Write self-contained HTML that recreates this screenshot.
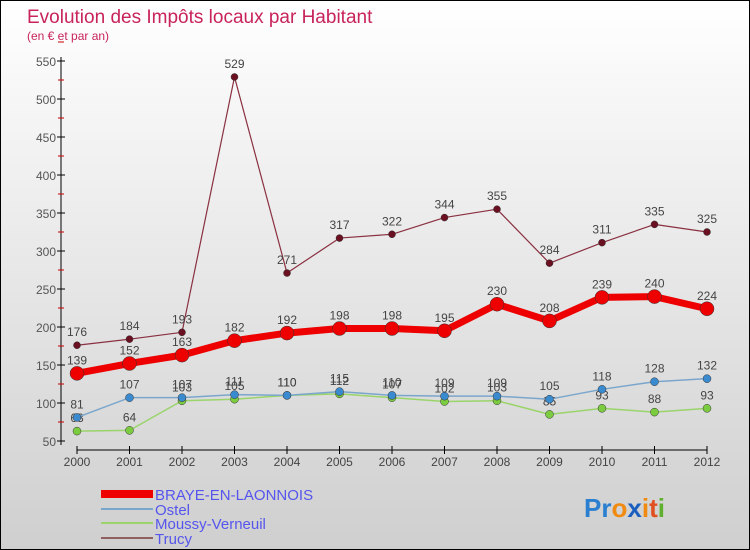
<!DOCTYPE html>
<html><head><meta charset="utf-8"><style>
body{margin:0}
#c{width:748px;height:548px;border:1px solid #000;position:relative;background:linear-gradient(#ffffff,#cfcfcf);font-family:"Liberation Sans",sans-serif;overflow:hidden}
</style></head><body>
<div id="c">
<svg id="s" width="748" height="548" xmlns="http://www.w3.org/2000/svg">
<text x="26" y="22" font-size="19" fill="#c8245a">Evolution des Impôts locaux par Habitant</text>
<text x="26" y="39" font-size="12" fill="#c8245a">(en € et par an)</text>
<g id="g"></g>
<g>
<rect x="100" y="489" width="52" height="8" fill="#e00"/>
<text x="154" y="499" font-size="15" fill="#5555ee">BRAYE-EN-LAONNOIS</text>
<line x1="100" y1="508" x2="152" y2="508" stroke="#7aa6cc" stroke-width="2"/>
<text x="154" y="514" font-size="15" fill="#5555ee">Ostel</text>
<line x1="100" y1="522" x2="152" y2="522" stroke="#9ad46a" stroke-width="2"/>
<text x="154" y="528" font-size="15" fill="#5555ee">Moussy-Verneuil</text>
<line x1="100" y1="537" x2="152" y2="537" stroke="#906060" stroke-width="2"/>
<text x="154" y="543" font-size="15" fill="#5555ee">Trucy</text>
</g>
<g font-size="26" font-weight="bold">
<text x="583" y="516"><tspan fill="#2a7fd0">Pr</tspan><tspan fill="#f08a10">o</tspan><tspan fill="#1a5fc0">x</tspan><tspan fill="#f08a10">i</tspan><tspan fill="#e05020">t</tspan><tspan fill="#60b030">i</tspan></text>
</g>
</svg>
</div>
<script>
const years=[2000,2001,2002,2003,2004,2005,2006,2007,2008,2009,2010,2011,2012];
const braye=[139,152,163,182,192,198,198,195,230,208,239,240,224];
const ostel=[81,107,107,111,110,115,110,109,109,105,118,128,132];
const moussy=[63,64,103,105,110,112,107,102,103,85,93,88,93];
const trucy=[176,184,193,529,271,317,322,344,355,284,311,335,325];
const yTicks=[50,100,150,200,250,300,350,400,450,500,550];
const NS="http://www.w3.org/2000/svg";
const g=document.getElementById('g');
function X(i){return 76+i*52.5;}
function Y(v){return 440-(v-50)*0.76;}
function el(t,a){const e=document.createElementNS(NS,t);for(const k in a)e.setAttribute(k,a[k]);g.appendChild(e);return e;}
let ax=el('line',{x1:60,y1:56,x2:60,y2:444,stroke:'#000'});


yTicks.forEach(v=>{
 const t=el('line',{x1:56,x2:64,y1:Y(v),y2:Y(v),stroke:'#000'});
 
 
 const m=el('line',{x1:57,x2:63,y1:Y(v)-19,y2:Y(v)-19,stroke:'#c00'});
 
 
 const l=el('text',{x:55,y:Y(v)+5,'font-size':12,fill:'#555','text-anchor':'end'});
 l.textContent=v;
 
 
});
let xa=el('line',{x1:X(0),y1:449,x2:X(12),y2:449,stroke:'#000'});


years.forEach((y,i)=>{
 const t=el('line',{x1:X(i),x2:X(i),y1:445,y2:453,stroke:'#000'});
 
 
 const l=el('text',{x:X(i),y:465,'font-size':12,fill:'#444','text-anchor':'middle'});
 l.textContent=y;
 
 
});
function series(name,data,color,dot,w,r){
 const p=el('polyline',{points:data.map((v,i)=>X(i)+','+Y(v)).join(' '),fill:'none',stroke:color,'stroke-width':w,'stroke-linejoin':'round'});
 
 
 data.forEach((v,i)=>{
  const c=el('circle',{cx:X(i),cy:Y(v),r:r,fill:dot,stroke:'#333','stroke-width':0.5});
  
  
  const t=el('text',{x:X(i),y:Y(v)-9,'font-size':12,fill:'#444','text-anchor':'middle'});
  t.textContent=v;
  
  
 });
}
series('trucy',trucy,'#8a3040','#6a1020',1.2,3.5);
series('moussy',moussy,'#9ad46a','#7ccc40',1.5,4);
series('ostel',ostel,'#7aa6cc','#3a8ad0',1.5,4);
series('braye',braye,'#ee0000','#ee0000',7,7);
</script>
</body></html>
